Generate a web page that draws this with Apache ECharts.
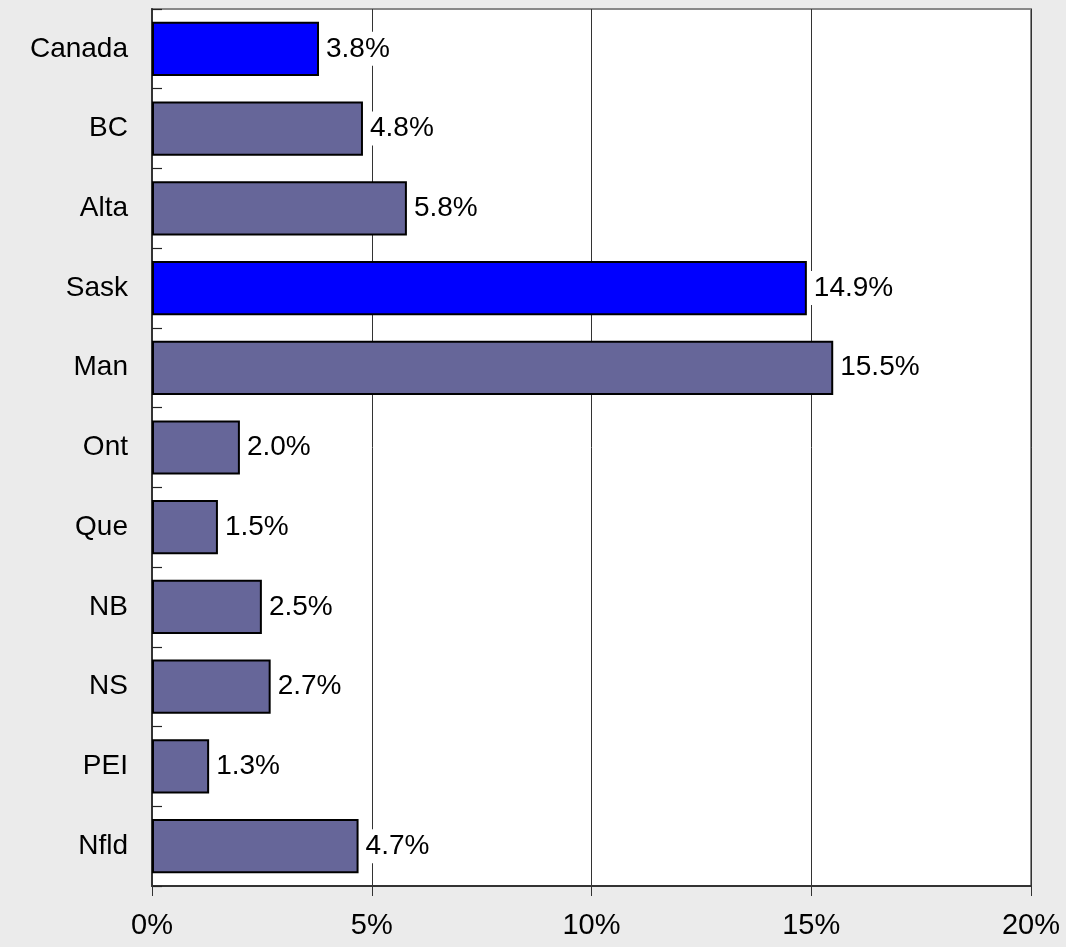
<!DOCTYPE html>
<html>
<head>
<meta charset="utf-8">
<script src="https://cdn.jsdelivr.net/npm/echarts@6/dist/echarts.min.js"></script>
<style>
  html, body { margin: 0; padding: 0; background: #ebebeb; }
  #chart { width: 1066px; height: 947px; }
</style>
</head>
<body>
<div id="chart"></div>
<script>
  // provinces, top to bottom
  var categories = ['Canada', 'BC', 'Alta', 'Sask', 'Man', 'Ont', 'Que', 'NB', 'NS', 'PEI', 'Nfld'];
  var values = [3.8, 4.8, 5.8, 14.9, 15.5, 2.0, 1.5, 2.5, 2.7, 1.3, 4.7];
  // highlighted bars
  var highlight = ['Canada', 'Sask'];
  var xTicks = [0, 5, 10, 15, 20];

  var chart = echarts.init(document.getElementById('chart'));
  var font = 'Liberation Sans, Arial, sans-serif';

  var option = {
    backgroundColor: '#ebebeb',
    animation: false,
    grid: {
      left: 152, top: 9, right: 35, bottom: 61,
      show: true,
      backgroundColor: '#fff',
      borderColor: '#888',
      borderWidth: 2
    },
    xAxis: {
      type: 'value',
      min: xTicks[0],
      max: xTicks[xTicks.length - 1],
      interval: 5,
      axisLine: { show: true, lineStyle: { color: '#333', width: 2 } },
      axisTick: { show: true, length: 10, lineStyle: { color: '#333' } },
      axisLabel: {
        formatter: '{value}%', fontSize: 29, color: '#000',
        fontFamily: font, margin: 25
      },
      splitLine: { show: true, lineStyle: { color: '#333', width: 1 } }
    },
    yAxis: {
      type: 'category',
      inverse: true,
      data: categories,
      axisLine: { show: true, lineStyle: { color: '#333', width: 2 } },
      axisTick: { show: true, inside: true, length: 10, lineStyle: { color: '#222', width: 1.2 } },
      axisLabel: { fontSize: 28, color: '#000', fontFamily: font, margin: 24 }
    },
    series: [{
      type: 'bar',
      barWidth: '68%',
      data: values.map(function (v, i) {
        return {
          value: v,
          itemStyle: {
            color: highlight.indexOf(categories[i]) >= 0 ? '#0000ff' : '#666699'
          }
        };
      }),
      itemStyle: { borderColor: '#000', borderWidth: 2 },
      label: {
        show: true,
        position: 'right',
        distance: 4,
        fontSize: 28,
        fontFamily: font,
        color: '#000',
        backgroundColor: '#fff',
        padding: [3, 3],
        formatter: function (p) { return p.value.toFixed(1) + '%'; }
      }
    }]
  };
  chart.setOption(option);
</script>
</body>
</html>
